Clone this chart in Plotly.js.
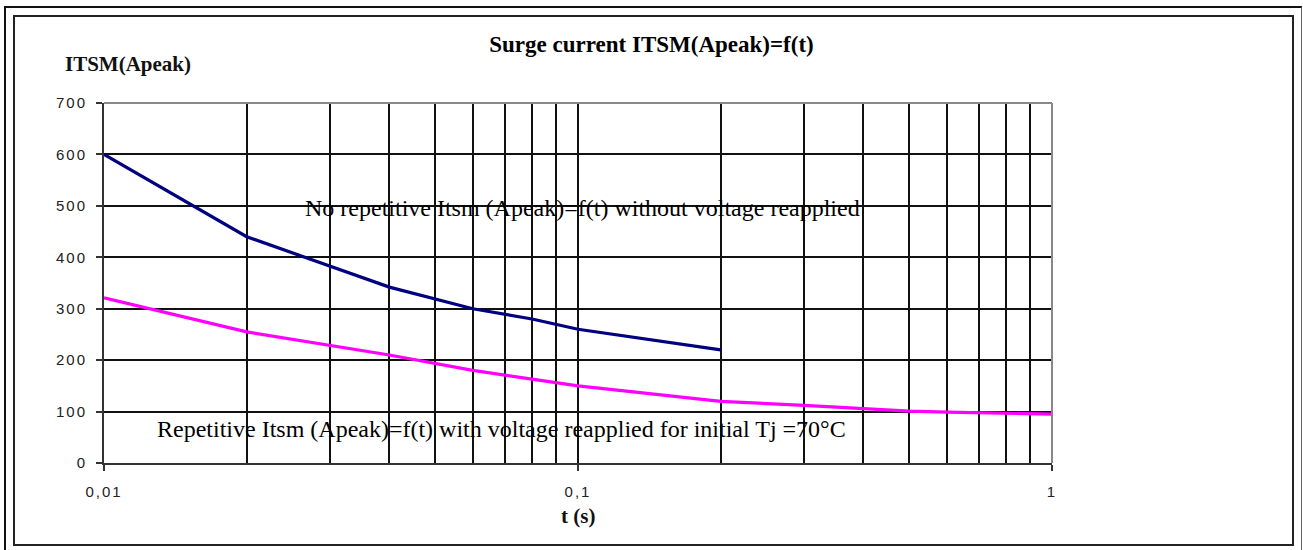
<!DOCTYPE html>
<html>
<head>
<meta charset="utf-8">
<script src="https://cdn.plot.ly/plotly-3.0.1.min.js"></script>
<style>
  html, body { margin: 0; padding: 0; background: #fff; overflow: hidden; }
  #wrap { position: relative; width: 1303px; height: 550px; overflow: hidden; }
  #chart { position: absolute; left: 0; top: 0; width: 1303px; height: 550px; }
  .frame-outer { position: absolute; left: 4px; top: 6px; width: 1295px; height: 600px;
    border-left: 2px solid #111; border-top: 2px solid #111; border-right: 1px solid #666; pointer-events: none; }
  .frame-inner { position: absolute; left: 13px; top: 15px; width: 1277px; height: 527px;
    border: 2px solid #222; pointer-events: none; }
  .xtick text, .ytick text { letter-spacing: 2px; }
</style>
</head>
<body>
<div id="wrap">
  <div id="chart"></div>
  <div class="frame-outer"></div>
  <div class="frame-inner"></div>
</div>
<script>
// ---- data ----
const tNoRep = [0.01, 0.02, 0.04, 0.06, 0.08, 0.1, 0.2];
const iNoRep = [600, 440, 342, 300, 280, 260, 220];

const tRep = [0.01, 0.02, 0.04, 0.06, 0.1, 0.2, 0.3, 0.4, 0.5, 0.6, 1];
const iRep = [321, 255, 210, 180, 150, 120, 112, 105, 101, 99, 95];

const xTickVals = [0.01, 0.1, 1];
const xTickText = ['0,01', '0,1', '1'];
const xMinorVals = [0.02, 0.03, 0.04, 0.05, 0.06, 0.07, 0.08, 0.09,
                    0.2, 0.3, 0.4, 0.5, 0.6, 0.7, 0.8, 0.9];
const yTickVals = [0, 100, 200, 300, 400, 500, 600, 700];
const yTickText = ['0', '100', '200', '300', '400', '500', '600', '700'];

const chartTitle = 'Surge current ITSM(Apeak)=f(t)';
const yTitle = 'ITSM(Apeak)';
const xTitle = 't (s)';
const labelNoRep = 'No repetitive Itsm (Apeak)=f(t) without voltage reapplied';
const labelRep = 'Repetitive Itsm (Apeak)=f(t) with voltage reapplied for initial Tj =70°C';

const serif = 'Liberation Serif, Times New Roman, serif';
const sans = 'Liberation Sans, Arial, sans-serif';

const traces = [
  { x: tNoRep, y: iNoRep, mode: 'lines', type: 'scatter',
    line: { color: '#000080', width: 3.2 }, hoverinfo: 'x+y', name: 'no repetitive' },
  { x: tRep, y: iRep, mode: 'lines', type: 'scatter',
    line: { color: '#FF00FF', width: 3.2 }, hoverinfo: 'x+y', name: 'repetitive' }
];

const axisCommon = {
  ticks: 'outside', ticklen: 6, tickwidth: 2, tickcolor: '#333',
  showline: true, linecolor: '#333', linewidth: 2,
  showgrid: true, gridcolor: '#111', gridwidth: 2,
  zeroline: false, fixedrange: true,
  tickfont: { family: sans, size: 15, color: '#222' }
};

const layout = {
  width: 1303, height: 550,
  margin: { l: 104, r: 251, t: 103, b: 87, pad: 0 },
  paper_bgcolor: '#fff', plot_bgcolor: '#fff',
  showlegend: false,
  title: { text: chartTitle, font: { family: serif, size: 23, color: '#000', weight: 'bold' },
           x: 0.5, xanchor: 'center', xref: 'container', y: 1 - 44 / 550, yanchor: 'middle', yref: 'container' },
  xaxis: Object.assign({}, axisCommon, {
    type: 'log', range: [-2, 0],
    tickmode: 'array', tickvals: xTickVals, ticktext: xTickText,
    ticklabelstandoff: 8,
    minor: { tickmode: 'array', tickvals: xMinorVals, showgrid: true,
             gridcolor: '#111', gridwidth: 2, ticks: '' }
  }),
  yaxis: Object.assign({}, axisCommon, {
    range: [0, 700], tickmode: 'array', tickvals: yTickVals, ticktext: yTickText,
    ticklabelstandoff: 6
  }),
  shapes: [
    { type: 'line', xref: 'paper', yref: 'paper', x0: 0, x1: 1, y0: 1, y1: 1,
      line: { color: '#888', width: 2 }, layer: 'above' },
    { type: 'line', xref: 'paper', yref: 'paper', x0: 1, x1: 1, y0: 0, y1: 1,
      line: { color: '#888', width: 2 }, layer: 'above' }
  ],
  annotations: [
    { text: yTitle, xref: 'paper', yref: 'paper', x: (63 - 104) / 948, y: (463 - 64.5) / 360,
      xanchor: 'left', yanchor: 'middle', showarrow: false,
      font: { family: serif, size: 21, color: '#111', weight: 'bold' } },
    { text: xTitle, xref: 'paper', yref: 'paper', x: 0.5, y: (463 - 516) / 360,
      xanchor: 'center', yanchor: 'middle', showarrow: false,
      font: { family: serif, size: 21, color: '#111', weight: 'bold' } },
    { text: labelNoRep, xref: 'paper', yref: 'paper', x: (582 - 104) / 948, y: (463 - 208) / 360,
      xanchor: 'center', yanchor: 'middle', showarrow: false,
      font: { family: serif, size: 24, color: '#000' } },
    { text: labelRep, xref: 'paper', yref: 'paper', x: (501.5 - 104) / 948, y: (463 - 428.7) / 360,
      xanchor: 'center', yanchor: 'middle', showarrow: false,
      font: { family: serif, size: 24, color: '#000' } }
  ]
};

Plotly.newPlot('chart', traces, layout, { displayModeBar: false, staticPlot: true });
</script>
</body>
</html>
